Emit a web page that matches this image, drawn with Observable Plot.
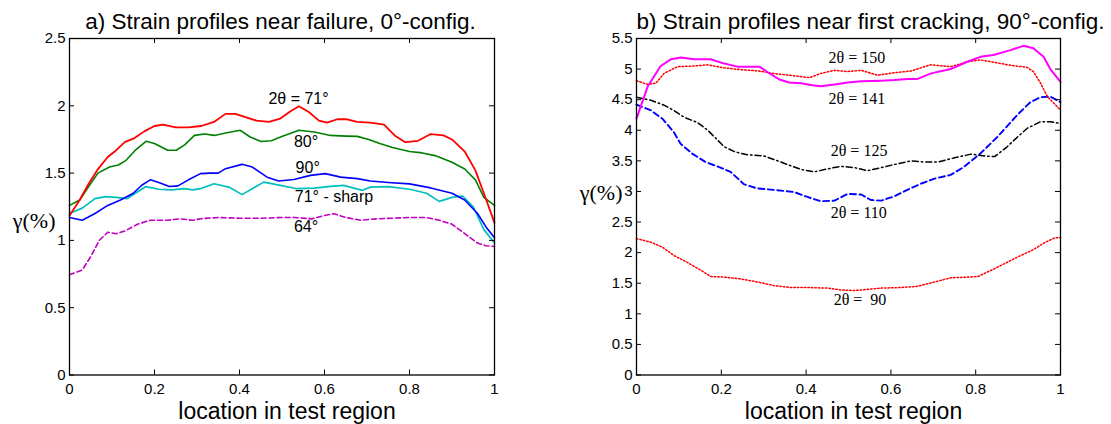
<!DOCTYPE html>
<html><head><meta charset="utf-8">
<script src="https://cdn.jsdelivr.net/npm/d3@7"></script>
<script src="https://cdn.jsdelivr.net/npm/@observablehq/plot@0.6"></script>
<style>
body{margin:0;background:#fff;}
#wrap{position:relative;width:1111px;height:424px;overflow:hidden;background:#fff;}
#wrap > svg{position:absolute;top:0;}
</style></head><body><div id="wrap"></div>
<script>
// ---------- data ----------
const xTicks = [0, 0.2, 0.4, 0.6, 0.8, 1];
const yTicksA = [0, 0.5, 1, 1.5, 2, 2.5];
const yTicksB = [0, 0.5, 1, 1.5, 2, 2.5, 3, 3.5, 4, 4.5, 5, 5.5];

const titleA = "a) Strain profiles near failure, 0°-config.";
const titleB = "b) Strain profiles near first cracking, 90°-config.";
const xLabel = "location in test region";
const yLabel = "γ(%)";

// Panel a: 0°-config, near failure
const a71 = [[0,1.185],[0.024,1.30],[0.043,1.41],[0.067,1.53],[0.09,1.62],[0.11,1.67],[0.13,1.73],[0.153,1.76],[0.176,1.81],[0.2,1.85],[0.22,1.86],[0.25,1.84],[0.28,1.84],[0.31,1.85],[0.34,1.88],[0.367,1.94],[0.39,1.94],[0.41,1.92],[0.44,1.89],[0.469,1.88],[0.496,1.905],[0.52,1.96],[0.54,1.996],[0.563,1.954],[0.587,1.89],[0.606,1.875],[0.63,1.9],[0.653,1.9],[0.677,1.88],[0.708,1.875],[0.74,1.86],[0.765,1.78],[0.79,1.73],[0.82,1.74],[0.85,1.79],[0.88,1.78],[0.9,1.75],[0.93,1.66],[0.955,1.52],[0.975,1.35],[1.0,1.13]];
const a80 = [[0,1.26],[0.024,1.30],[0.045,1.40],[0.067,1.50],[0.094,1.545],[0.115,1.56],[0.133,1.595],[0.155,1.67],[0.18,1.736],[0.2,1.72],[0.231,1.67],[0.251,1.67],[0.271,1.71],[0.294,1.78],[0.318,1.79],[0.341,1.78],[0.37,1.80],[0.402,1.818],[0.424,1.77],[0.451,1.735],[0.475,1.74],[0.498,1.77],[0.54,1.818],[0.576,1.805],[0.614,1.78],[0.65,1.775],[0.677,1.773],[0.704,1.75],[0.73,1.72],[0.76,1.69],[0.8,1.66],[0.83,1.65],[0.86,1.63],[0.9,1.58],[0.93,1.53],[0.955,1.45],[0.975,1.32],[1.0,1.26]];
const a90 = [[0,1.17],[0.03,1.15],[0.06,1.2],[0.09,1.26],[0.12,1.3],[0.15,1.35],[0.17,1.41],[0.19,1.45],[0.21,1.43],[0.235,1.40],[0.255,1.405],[0.28,1.45],[0.308,1.496],[0.33,1.50],[0.35,1.50],[0.367,1.533],[0.406,1.565],[0.43,1.545],[0.465,1.47],[0.492,1.441],[0.528,1.453],[0.567,1.483],[0.602,1.496],[0.638,1.47],[0.677,1.459],[0.708,1.441],[0.75,1.43],[0.8,1.42],[0.85,1.39],[0.9,1.35],[0.93,1.3],[0.96,1.2],[0.98,1.1],[1.0,1.02]];
const a71sharp = [[0,1.2],[0.03,1.24],[0.06,1.31],[0.085,1.325],[0.11,1.32],[0.135,1.31],[0.155,1.35],[0.18,1.40],[0.21,1.38],[0.24,1.375],[0.27,1.385],[0.29,1.375],[0.308,1.384],[0.34,1.421],[0.375,1.396],[0.406,1.34],[0.457,1.433],[0.496,1.409],[0.536,1.384],[0.575,1.389],[0.614,1.401],[0.645,1.409],[0.689,1.372],[0.708,1.396],[0.75,1.4],[0.8,1.38],[0.84,1.35],[0.87,1.29],[0.9,1.32],[0.925,1.33],[0.95,1.25],[0.975,1.08],[1.0,0.98]];
const a64 = [[0,0.745],[0.03,0.78],[0.05,0.88],[0.07,1.0],[0.09,1.06],[0.11,1.05],[0.13,1.07],[0.16,1.12],[0.19,1.15],[0.23,1.15],[0.26,1.16],[0.29,1.15],[0.308,1.161],[0.35,1.17],[0.4,1.165],[0.45,1.165],[0.5,1.17],[0.53,1.17],[0.57,1.16],[0.6,1.185],[0.622,1.198],[0.65,1.17],[0.685,1.15],[0.72,1.16],[0.76,1.165],[0.8,1.17],[0.84,1.17],[0.87,1.15],[0.9,1.12],[0.93,1.05],[0.96,0.98],[0.98,0.96],[1.0,0.955]];

// Panel b: 90°-config, near first cracking
const b150 = [[0,4.81],[0.026,4.75],[0.046,4.77],[0.065,4.93],[0.097,5.04],[0.136,5.05],[0.168,5.07],[0.207,5.02],[0.246,4.99],[0.286,4.97],[0.333,4.92],[0.372,4.89],[0.408,4.86],[0.435,4.93],[0.467,4.98],[0.498,4.96],[0.53,4.98],[0.569,4.90],[0.608,4.94],[0.648,4.97],[0.693,5.07],[0.741,5.04],[0.781,5.12],[0.811,5.15],[0.844,5.11],[0.884,5.06],[0.921,5.03],[0.936,4.96],[0.953,4.77],[0.969,4.55],[1.0,4.33]];
const b141 = [[0,4.19],[0.026,4.71],[0.057,5.05],[0.081,5.16],[0.105,5.19],[0.136,5.16],[0.175,5.16],[0.207,5.09],[0.238,5.04],[0.266,5.04],[0.29,5.04],[0.309,4.95],[0.337,4.83],[0.36,4.78],[0.388,4.77],[0.411,4.74],[0.435,4.72],[0.467,4.75],[0.498,4.78],[0.53,4.80],[0.577,4.81],[0.608,4.82],[0.64,4.84],[0.663,4.84],[0.695,4.93],[0.741,5.0],[0.78,5.12],[0.811,5.2],[0.842,5.23],[0.882,5.31],[0.913,5.38],[0.936,5.34],[0.96,5.2],[0.976,5.0],[1.0,4.79]];
const b125 = [[0,4.54],[0.034,4.49],[0.065,4.41],[0.089,4.32],[0.113,4.21],[0.143,4.13],[0.168,4.0],[0.187,3.87],[0.207,3.73],[0.231,3.65],[0.261,3.6],[0.3,3.58],[0.333,3.5],[0.356,3.44],[0.388,3.36],[0.419,3.32],[0.451,3.37],[0.482,3.41],[0.514,3.39],[0.545,3.34],[0.577,3.39],[0.608,3.44],[0.648,3.50],[0.679,3.48],[0.71,3.48],[0.75,3.55],[0.789,3.61],[0.821,3.58],[0.845,3.57],[0.874,3.73],[0.9,3.9],[0.921,4.03],[0.953,4.14],[0.976,4.14],[1.0,4.11]];
const b110 = [[0,4.42],[0.033,4.33],[0.061,4.19],[0.088,3.97],[0.104,3.78],[0.131,3.62],[0.163,3.48],[0.198,3.39],[0.222,3.32],[0.253,3.12],[0.284,3.05],[0.332,3.02],[0.372,2.99],[0.403,2.91],[0.435,2.84],[0.467,2.85],[0.498,2.96],[0.53,2.95],[0.553,2.86],[0.577,2.85],[0.608,2.92],[0.64,3.03],[0.672,3.13],[0.703,3.21],[0.741,3.27],[0.772,3.40],[0.811,3.62],[0.851,3.89],[0.898,4.25],[0.929,4.46],[0.953,4.54],[0.976,4.55],[1.0,4.46]];
const b90 = [[0,2.23],[0.034,2.17],[0.061,2.09],[0.089,1.95],[0.12,1.84],[0.152,1.71],[0.175,1.61],[0.207,1.60],[0.246,1.57],[0.286,1.52],[0.325,1.46],[0.364,1.43],[0.404,1.43],[0.451,1.42],[0.482,1.39],[0.514,1.38],[0.545,1.40],[0.577,1.42],[0.624,1.43],[0.663,1.45],[0.703,1.52],[0.742,1.59],[0.781,1.60],[0.805,1.61],[0.836,1.71],[0.868,1.82],[0.899,1.93],[0.931,2.03],[0.962,2.16],[0.986,2.24],[1.0,2.25]];

// curve annotations (text, anchor in data units)
const labelsA = [
  {t: "2θ = 71°", x: 0.468, y: 2.05},
  {t: "80°", x: 0.528, y: 1.731},
  {t: "90°", x: 0.532, y: 1.54},
  {t: "71° - sharp", x: 0.53, y: 1.322},
  {t: "64°", x: 0.528, y: 1.104}
];
const labelsB = [
  {t: "2θ = 150", x: 0.453, y: 5.18},
  {t: "2θ = 141", x: 0.453, y: 4.52},
  {t: "2θ = 125", x: 0.458, y: 3.66},
  {t: "2θ = 110", x: 0.458, y: 2.65},
  {t: "2θ =\u00a0 90", x: 0.465, y: 1.23}
];

// ---------- drawing ----------
const SANS = "'Liberation Sans', Arial, Helvetica, sans-serif";
const SERIF = "'Liberation Serif', 'Times New Roman', serif";
const H = 424, MT = 38, MB = 49.5;

function panel({width, ml, mr, yMax, yTicks, series, labels, labelFont, title, titleOpts, ylabDy}) {
  const iw = width - ml - mr, ih = H - MT - MB, len = 5;
  const marks = [];
  for (const s of series) {
    marks.push(Plot.line(s.data, {x: d => d[0], y: d => d[1], stroke: s.color,
      strokeWidth: s.w, strokeDasharray: s.dash, strokeLinejoin: "round"}));
  }
  marks.push(
    Plot.ruleX(xTicks, {insetTop: ih - len, stroke: "#000", strokeWidth: 1}),
    Plot.ruleX(xTicks, {insetBottom: ih - len, stroke: "#000", strokeWidth: 1}),
    Plot.ruleY(yTicks, {insetRight: iw - len, stroke: "#000", strokeWidth: 1}),
    Plot.ruleY(yTicks, {insetLeft: iw - len, stroke: "#000", strokeWidth: 1}),
    Plot.frame({stroke: "#000", strokeWidth: 1.3}),
    Plot.axisX({ticks: xTicks, tickSize: 0, tickPadding: 8, tickFormat: d => String(d), label: null, fontSize: 15, fill: "#000"}),
    Plot.axisY({ticks: yTicks, tickSize: 0, tickPadding: 4, tickFormat: d => String(d), label: null, fontSize: 15, fill: "#000"}),
    Plot.text(labels, {x: "x", y: "y", text: "t", textAnchor: "start", fontSize: 16, fontFamily: labelFont, fill: "#000"}),
    Plot.text([title], {text: d => d, lineAnchor: "bottom", fontSize: 22.5, fill: "#000", ...titleOpts}),
    Plot.text([xLabel], {text: d => d, frameAnchor: "bottom", lineAnchor: "bottom", dx: 5, dy: 43.5, fontSize: 23, fill: "#000"}),
    Plot.text([yLabel], {text: d => d, frameAnchor: "left", textAnchor: "end", dx: -14, dy: ylabDy, fontSize: 22, fontFamily: SERIF, fill: "#000"})
  );
  return Plot.plot({
    width, height: H,
    marginLeft: ml, marginRight: mr, marginTop: MT, marginBottom: MB,
    x: {domain: [0, 1]},
    y: {domain: [0, yMax]},
    style: {fontFamily: SANS, fontSize: "15px", background: "#fff", color: "#000", overflow: "visible"},
    marks
  });
}

const svgA = panel({
  width: 560, ml: 69, mr: 66, yMax: 2.5, yTicks: yTicksA,
  series: [
    {data: a64, color: "#bf00bf", w: 1.6, dash: "5,3"},
    {data: a71sharp, color: "#00bfbf", w: 1.7},
    {data: a90, color: "#0000ff", w: 1.6},
    {data: a80, color: "#008000", w: 1.6},
    {data: a71, color: "#ff0000", w: 1.8}
  ],
  labels: labelsA, labelFont: SANS, title: titleA,
  titleOpts: {frameAnchor: "top", dx: -1.5, dy: -9.5},
  ylabDy: 14
});
const svgB = panel({
  width: 551, ml: 76, mr: 51, yMax: 5.5, yTicks: yTicksB,
  series: [
    {data: b90, color: "#ff0000", w: 1.5, dash: "1.5,2"},
    {data: b110, color: "#0000ff", w: 1.9, dash: "6,3.5"},
    {data: b125, color: "#000000", w: 1.5, dash: "6,3,1.5,3"},
    {data: b150, color: "#ff0000", w: 1.5, dash: "1.5,2"},
    {data: b141, color: "#ff00ff", w: 2}
  ],
  labels: labelsB, labelFont: SERIF, title: titleB,
  titleOpts: {frameAnchor: "top-left", textAnchor: "start", dx: 0, dy: -9.5},
  ylabDy: -14
});
svgA.style.left = "0px";
svgB.style.left = "560px";
const wrap = document.getElementById("wrap");
wrap.appendChild(svgA);
wrap.appendChild(svgB);
</script></body></html>
